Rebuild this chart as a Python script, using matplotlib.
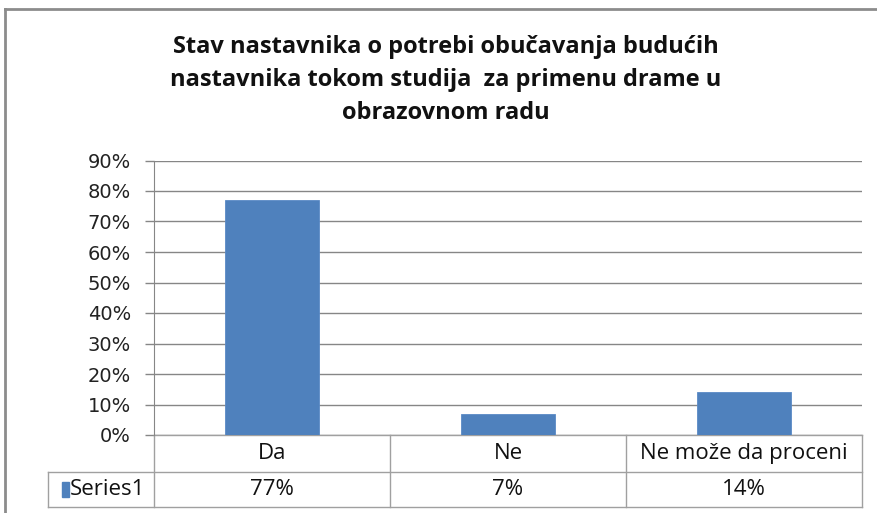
import matplotlib
matplotlib.use("Agg")
import matplotlib.pyplot as plt
import matplotlib.transforms as mtransforms
from matplotlib.lines import Line2D
from matplotlib.patches import Rectangle

# ── DATA ────────────────────────────────────────────────────
categories = ["Da", "Ne", "Ne može da proceni"]
values = [77, 7, 14]
value_labels = ["77%", "7%", "14%"]
series_name = "Series1"
yticks = [0, 10, 20, 30, 40, 50, 60, 70, 80, 90]
title = ("Stav nastavnika o potrebi obučavanja budućih\n"
         "nastavnika tokom studija  za primenu drame u\n"
         "obrazovnom radu")

BAR = "#4F81BD"
GRID = "#868686"
TBL = "#A0A0A0"
NARROW = ["Open Sans", "DejaVu Sans"]

W, H = 877, 513
fig = plt.figure(figsize=(W / 100, H / 100), dpi=100)

# plot area in pixels: x 154..862, y 160.5..435
x0, x1, ytop, ybot = 154, 862, 160.5, 435
ax = fig.add_axes([x0 / W, (H - ybot) / H, (x1 - x0) / W, (ybot - ytop) / H])

xs = list(range(len(categories)))
ax.bar(xs, values, width=0.4, color=BAR, edgecolor="#5A8AC6", linewidth=0.6, zorder=3)
ax.set_xlim(-0.5, len(categories) - 0.5)
ax.set_ylim(0, 90)
ax.set_yticks(yticks)
ax.set_yticklabels([f"{t}%" for t in yticks], fontsize=14, color="#222222")
ax.set_xticks([])
ax.yaxis.grid(True, color=GRID, linewidth=1, zorder=0)
ax.tick_params(axis="y", length=6.5, color=GRID, width=1, pad=10)
for s in ["top", "right", "bottom"]:
    ax.spines[s].set_visible(False)
ax.spines["left"].set_color(GRID)

# ── data table below the axes ───────────────────────────────
trans = mtransforms.blended_transform_factory(ax.transData, ax.transAxes)
ph = ybot - ytop
r1 = (ybot - 472) / ph
r2 = (ybot - 507) / ph
left2 = -0.5 + (48 - x0) / 236
edges = [-0.5 + i for i in range(len(categories) + 1)]

def tline(xa, xb, ya, yb):
    ax.add_line(Line2D([xa, xb], [ya, yb], transform=trans, color=TBL,
                       linewidth=1, clip_on=False))

tline(edges[0], edges[-1], 0, 0)
tline(left2, edges[-1], r1, r1)
tline(left2, edges[-1], r2, r2)
tline(left2, left2, r1, r2)
for e in edges:
    tline(e, e, 0, r2)

for i, (c, v) in enumerate(zip(categories, value_labels)):
    ax.text(i, r1 / 2, c, transform=trans, ha="center", va="center",
            fontsize=16, family=NARROW, color="#111111")
    ax.text(i, (r1 + r2) / 2, v, transform=trans, ha="center", va="center",
            fontsize=16, family=NARROW, color="#111111")

ax.add_patch(Rectangle((left2 + 0.058, (r1 + r2) / 2 - 0.027), 0.03, 0.054,
                       transform=trans, color=BAR, clip_on=False))
ax.text(left2 + 0.093, (r1 + r2) / 2, series_name, transform=trans,
        ha="left", va="center", fontsize=16, family=NARROW, color="#111111")

# ── title and chart border ──────────────────────────────────
fig.text(446 / W, 1 - 80 / H, title, ha="center", va="center", fontsize=17,
         fontweight="bold", family=NARROW, linespacing=1.5, color="#111111")

fig.add_artist(Line2D([5 / W, 1], [1 - 9 / H, 1 - 9 / H], transform=fig.transFigure,
                      color="#8C8C8C", linewidth=2))
fig.add_artist(Line2D([5 / W, 5 / W], [0, 1 - 9 / H], transform=fig.transFigure,
                      color="#8C8C8C", linewidth=2))

fig.savefig("out.png", dpi=100)
